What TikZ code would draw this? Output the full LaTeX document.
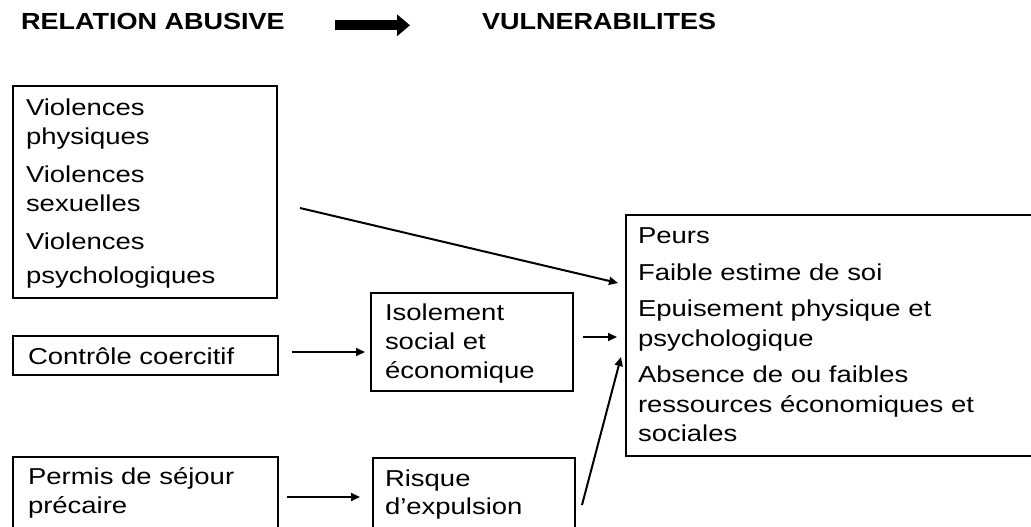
\documentclass[tikz,border=0pt]{standalone}
\usepackage{fontspec}
\setmainfont{Liberation Sans}
\newfontfamily\bodyfont[FakeStretch=1.195]{Liberation Sans}
\newfontfamily\headfont[FakeStretch=1.16]{Liberation Sans}
\usetikzlibrary{arrows.meta,calc}
\begin{document}
\begin{tikzpicture}[x=1pt,y=-1pt,
  box/.style={draw, line width=2.4pt, inner sep=0pt, outer sep=0pt, anchor=center},
  txt/.style={anchor=base west, inner sep=0pt, outer sep=0pt},
  head/.style={anchor=base west, inner sep=0pt, outer sep=0pt, font=\headfont\bfseries\fontsize{23.3}{28}\selectfont},
  arr/.style={line width=2pt, -{Triangle[length=9pt,width=8pt]}},
  bigarr/.style={line width=10pt, -{Triangle[length=13pt,width=21pt]}},
]
\useasboundingbox (0,0) rectangle (1031,527);

% header
\node[head] (rel) at (21,30) {RELATION ABUSIVE};
\node[head] (vul) at (482,30) {VULNERABILITES};
\draw[bigarr] ([shift={(50,3.3)}]rel.east) -- ([shift={(-72,3.3)}]vul.west);

% boxes
\node[box, minimum width=264pt, minimum height=212pt] (viol) at (145,192) {};
\node[box, minimum width=265pt, minimum height=39pt] (ctrl) at (145.5,355.3) {};
\node[box, minimum width=202pt, minimum height=98pt] (isol) at (472,342) {};
\node[box, minimum width=265pt, minimum height=73pt] (permis) at (145.5,493.5) {};
\node[box, minimum width=202pt, minimum height=72pt] (risque) at (474,494) {};
\node[box, minimum width=414pt, minimum height=241pt] (vuln) at (833,335.5) {};

% texts
\node[txt] (violt) at (26,115.7) {\parbox[t]{245pt}{\bodyfont\fontsize{23}{28.5}\selectfont\raggedright
  Violences\\ physiques\\[10pt] Violences\\ sexuelles\\[10pt] Violences\\[5pt] psychologiques}};
\node[txt] (ctrlt) at (28,364.5) {\bodyfont\fontsize{23}{28.5}\selectfont Contrôle coercitif};
\node[txt] (isolt) at (385,320.5) {\parbox[t]{185pt}{\bodyfont\fontsize{23}{28.8}\selectfont\raggedright
  Isolement\\ social et\\ économique}};
\node[txt] (permist) at (28,484) {\parbox[t]{245pt}{\bodyfont\fontsize{23}{29.5}\selectfont\raggedright
  Permis de séjour\\ précaire}};
\node[txt] (risquet) at (385,486) {\parbox[t]{185pt}{\bodyfont\fontsize{23}{28}\selectfont\raggedright
  Risque\\ d’expulsion}};
\node[txt] (vulnt) at (638,243.5) {\parbox[t]{385pt}{\bodyfont\fontsize{23}{29.5}\selectfont\raggedright
  Peurs\\[7pt] Faible estime de soi\\[7pt] Epuisement physique et\\ psychologique\\[7pt]
  Absence de ou faibles\\ ressources économiques et\\ sociales}};

% connectors
\draw[arr] ([shift={(23,122)}]viol.north east) -- ([shift={(-8,68)}]vuln.north west);
\draw[arr] ([shift={(13.5,-3.3)}]ctrl.east) -- ([shift={(-6,10)}]isol.west);
\draw[arr] ([shift={(10,-5)}]isol.east) -- ([shift={(-9,1.5)}]vuln.west);
\draw[arr] ([shift={(9,3.5)}]permis.east) -- ([shift={(-13,3)}]risque.west);
\draw[arr] ([shift={(7,11)}]risque.east) -- ([shift={(-5,21.5)}]vuln.west);
\end{tikzpicture}
\end{document}
